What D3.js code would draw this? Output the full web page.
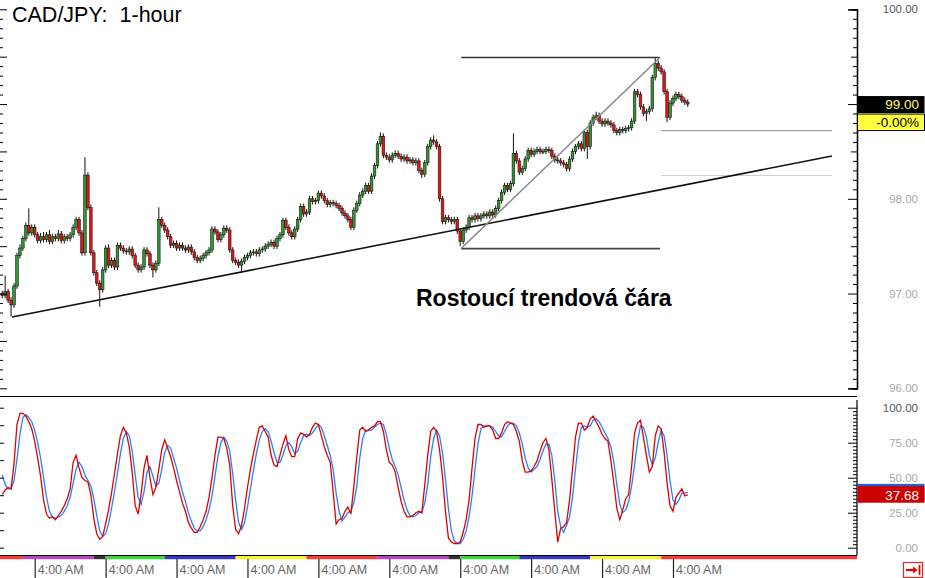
<!DOCTYPE html>
<html><head><meta charset="utf-8">
<script src="https://cdn.jsdelivr.net/npm/d3@7"></script>
<style>
body{margin:0;background:#fff;}
svg{display:block;font-family:"Liberation Sans",Arial,sans-serif;}
</style>
</head><body>
<svg id="c" width="925" height="578"></svg>
<script>
// ---------------- DATA ----------------
const title = "CAD/JPY:  1-hour";
const annotationText = "Rostoucí trendová čára";
const firstOpen = 97.00;
const closes = [
96.98,97.02,96.93,96.88,97.08,97.40,97.48,97.58,97.72,97.64,
97.70,97.62,97.56,97.60,97.57,97.62,97.55,97.60,97.58,97.63,
97.56,97.60,97.58,97.62,97.70,97.78,97.64,97.43,98.25,97.91,
97.43,97.22,97.11,97.04,97.25,97.48,97.30,97.35,97.28,97.51,
97.48,97.45,97.44,97.47,97.40,97.30,97.25,97.28,97.46,97.42,
97.30,97.25,97.32,97.78,97.72,97.67,97.60,97.51,97.53,97.48,
97.51,97.48,97.46,97.49,97.44,97.38,97.35,97.37,97.40,97.43,
97.46,97.68,97.65,97.57,97.62,97.69,97.67,97.46,97.35,97.33,
97.30,97.34,97.38,97.40,97.43,97.44,97.42,97.46,97.47,97.50,
97.52,97.54,97.50,97.58,97.62,97.77,97.70,97.64,97.60,97.68,
97.78,97.92,97.84,97.86,98.00,97.97,97.98,98.06,98.03,97.98,
97.94,97.96,97.95,97.93,97.90,97.85,97.82,97.78,97.70,97.88,
97.95,98.04,98.08,98.14,98.08,98.24,98.35,98.58,98.66,98.46,
98.44,98.41,98.46,98.48,98.45,98.42,98.44,98.40,98.41,98.38,
98.40,98.30,98.26,98.38,98.55,98.62,98.60,98.55,98.00,97.76,
97.80,97.78,97.76,97.78,97.66,97.55,97.67,97.70,97.80,97.78,
97.82,97.79,97.82,97.84,97.82,97.86,97.83,97.90,97.98,98.07,
98.14,98.10,98.16,98.48,98.40,98.28,98.32,98.42,98.51,98.47,
98.50,98.52,98.50,98.50,98.52,98.51,98.45,98.41,98.40,98.38,
98.36,98.32,98.42,98.50,98.55,98.58,98.53,98.70,98.55,98.80,
98.86,98.88,98.82,98.79,98.82,98.80,98.78,98.72,98.70,98.73,
98.72,98.74,98.75,98.82,99.13,99.10,98.97,98.90,98.92,98.95,
99.28,99.43,99.38,99.34,99.13,98.86,99.01,99.06,99.10,99.08,
99.04,99.02,99.00];
// wick lengths above / below the body, in hundredths of a yen
const wickUp = [
3,17,3,3,3,3,4,3,3,18, 3,3,3,4,5,3,5,3,3,4, 3,3,3,3,3,3,3,3,19,3, 3,3,3,3,3,3,4,3,3,3,
3,3,3,3,3,3,3,3,3,3, 3,3,3,13,3,3,3,3,3,3, 3,3,3,3,3,3,3,3,3,3, 3,3,3,3,3,3,3,3,3,3,
3,3,3,3,3,3,3,3,3,3, 3,3,3,3,3,3,3,3,3,3, 3,3,3,3,3,3,3,3,3,3, 3,3,3,3,3,3,3,3,3,3,
3,3,3,3,3,3,3,3,4,3, 3,3,3,3,3,3,3,3,3,3, 3,3,3,3,3,3,5,3,3,3, 3,3,3,3,3,3,3,3,3,3,
3,3,3,3,3,3,3,3,3,3, 3,3,3,21,3,3,3,3,3,3, 3,3,3,3,3,3,3,3,3,3, 3,3,3,3,3,3,3,3,3,3,
3,4,3,3,3,3,3,3,3,3, 3,3,3,3,3,3,3,3,3,3, 3,6,3,3,3,3,3,3,3,3, 3,3,3];
const wickDown = [
3,3,3,12,3,3,3,3,3,3, 3,3,3,3,3,3,3,3,3,3, 3,3,3,3,3,3,3,3,3,3, 3,3,3,18,3,3,3,3,3,3,
3,3,3,3,3,3,3,3,3,3, 3,8,3,3,3,3,3,3,3,3, 3,3,3,3,3,3,3,3,3,3, 3,3,3,3,3,3,3,3,3,3,
3,8,3,3,3,3,3,3,3,3, 3,3,3,3,3,3,3,3,3,3, 3,3,3,3,3,3,3,3,3,3, 3,3,3,3,3,3,3,3,3,3,
3,3,3,3,3,3,3,3,3,3, 3,3,3,3,3,3,3,3,3,3, 3,3,4,3,3,3,3,3,3,3, 3,3,3,3,3,5,3,3,3,3,
3,3,3,3,3,3,3,3,3,3, 3,3,3,3,3,3,3,3,3,3, 3,3,3,3,3,3,3,3,3,3, 3,3,3,3,3,3,3,3,13,3,
3,3,3,3,3,3,3,3,3,3, 3,3,3,3,3,3,3,3,8,3, 3,3,3,3,3,5,3,3,3,3, 3,3,3];
const stochK = [
38,41,43,42,60,88,96,96,94,90, 85,76,64,51,34,24,21,22,20,23, 26,30,35,42,61,66,57,50,48,47,
38,21,10,6,8,17,27,39,53,67, 80,86,82,72,54,30,24,38,57,66, 50,38,43,56,70,77,71,65,57,48,
40,32,26,18,14,11,11,15,20,26, 36,50,66,79,79,78,71,59,30,13, 10,16,28,43,56,67,77,86,87,83,
79,66,59,58,66,74,80,70,65,65, 78,82,81,79,81,86,89,88,80,72, 66,61,40,17,20,21,26,29,24,44,
65,84,86,83,84,86,87,90,90,83, 70,61,59,54,43,33,26,22,22,23, 25,26,25,45,66,83,86,83,70,51,
26,7,4,3,3,4,11,20,34,57, 78,88,88,86,87,87,84,78,78,82, 88,90,89,88,83,76,62,54,54,55,
58,62,69,75,78,70,49,26,4,14, 15,18,34,56,79,89,89,84,86,92, 94,90,86,81,78,76,62,46,28,20,
27,35,38,58,82,89,91,79,66,54, 58,80,87,85,68,46,30,26,36,39, 42,37,37.68];
const stochD = [
52,45,42,42,48,63,81,93,95,93, 90,84,75,64,50,36,26,22,21,22, 23,26,30,36,46,56,61,58,52,48,
44,35,23,12,8,10,17,28,40,53, 67,78,83,80,69,52,36,31,40,54, 58,51,44,46,56,68,73,71,64,57,
48,40,33,25,19,14,12,12,15,20, 27,37,51,65,75,79,76,69,53,34, 18,13,18,29,42,55,67,77,83,85,
83,76,68,61,61,66,73,75,72,67, 69,75,80,81,80,82,85,88,86,80, 73,66,56,39,26,19,22,25,26,32,
44,64,78,84,84,84,86,88,89,88, 81,71,63,58,52,43,34,27,23,22, 23,25,25,32,45,65,78,84,80,68,
49,28,12,5,3,3,6,12,22,37, 56,74,85,87,87,87,86,83,80,79, 83,87,89,89,87,82,74,64,57,54,
56,58,63,69,74,74,66,48,26,15, 11,16,22,36,56,75,86,87,86,87, 91,92,90,86,82,78,72,61,45,31,
25,27,33,44,59,76,87,86,79,66, 59,64,75,84,80,66,48,34,31,34, 39,39,39.5];
const priceTicks = [96, 97, 98, 99, 100];
const stochTicks = [0, 25, 50, 75, 100];
const timeTickIdx = [11, 35, 59, 83, 107, 131, 155, 179, 203, 227];
const timeTickLabels = ["4:00 AM","4:00 AM","4:00 AM","4:00 AM","4:00 AM","4:00 AM","4:00 AM","4:00 AM","4:00 AM","4:00 AM"];
// session colour bar: [start candle, end candle, colour]
const sessionStart = [-3, 7, 31, 35, 55, 79, 103, 127, 151, 155, 175, 199, 223];
const sessionEnd   = [7, 31, 35, 55, 79, 103, 127, 151, 155, 175, 199, 223, 292];
const sessionColor = ["#ff3a3a","#bb44c4","#333333","#33dd33","#3434c8","#fff030","#ff3a3a","#bb44c4","#333333","#33dd33","#3434c8","#fff030","#ff3a3a"];
// drawn annotations, in (candle index, price)
const trendLine = [[3.3, 96.752], [280.8, 98.452]];
const boxTop = [[155.3, 99.491], [222.6, 99.491]];
const boxBottom = [[155.3, 97.475], [222.6, 97.475]];
const boxDiagonal = [[155.3, 97.475], [222.6, 99.491]];
const levelA = [[223, 98.719], [280.8, 98.719]];
const levelB = [[223, 98.246], [280.8, 98.246]];
const lastPrice = 99.00, lastChange = "-0.00%";
const lastK = 37.68, lastD = 39.5;

// ---------------- SCALES ----------------
const svg = d3.select("#c");
const step = 2.955;
const x = d3.scaleLinear().domain([0, 290]).range([2.2, 2.2 + 290 * step]);
const yP = d3.scaleLinear().domain([96, 100]).range([388.3, 9.3]);
const yS = d3.scaleLinear().domain([0, 100]).range([547.7, 407.7]);
const AX = 857;

const defs = svg.append("defs");
defs.append("clipPath").attr("id","cpMain").append("rect").attr("x",0).attr("y",0).attr("width",AX).attr("height",396);
defs.append("clipPath").attr("id","cpStoch").append("rect").attr("x",0).attr("y",400).attr("width",AX).attr("height",155);

// ---------------- MAIN PANEL ----------------
const gMain = svg.append("g").attr("clip-path","url(#cpMain)");

function seg(g, pts, color, w){
  g.append("line")
   .attr("x1", x(pts[0][0])).attr("y1", yP(pts[0][1]))
   .attr("x2", x(pts[1][0])).attr("y2", yP(pts[1][1]))
   .attr("stroke", color).attr("stroke-width", w);
}
seg(gMain, levelB, "#d0d0d0", 1);
seg(gMain, levelA, "#a0a0a0", 1.2);

// candles
const candles = closes.map((c, i) => {
  const o = i === 0 ? firstOpen : closes[i-1];
  return {i, o, c, h: Math.max(o,c) + wickUp[i]/100, l: Math.min(o,c) - wickDown[i]/100};
});
const gC = gMain.append("g");
gC.selectAll("line.w").data(candles).join("line").attr("class","w")
  .attr("x1", d => x(d.i)).attr("x2", d => x(d.i))
  .attr("y1", d => yP(d.h)).attr("y2", d => yP(d.l))
  .attr("stroke", "#111").attr("stroke-width", 1);
gC.selectAll("rect").data(candles).join("rect")
  .attr("x", d => x(d.i) - 1.3).attr("width", 2.6)
  .attr("y", d => yP(Math.max(d.o, d.c)))
  .attr("height", d => Math.max(0.8, Math.abs(yP(d.o) - yP(d.c))))
  .attr("fill", d => d.c >= d.o ? "#2f9a2f" : "#ee1111")
  .attr("stroke", "#151515").attr("stroke-width", 0.6);

seg(gMain, trendLine, "#111", 1.6);
seg(gMain, boxTop, "#333", 1.6);
seg(gMain, boxBottom, "#444", 1.8);
seg(gMain, boxDiagonal, "#8a8a8a", 1.6);

svg.append("text").attr("x", 416).attr("y", 306)
  .attr("font-size", 23).attr("font-weight", "bold").attr("fill", "#000")
  .text(annotationText);
svg.append("text").attr("x", 12).attr("y", 21.5).attr("xml:space","preserve")
  .style("white-space","pre")
  .attr("font-size", 21.5).attr("fill", "#000").text(title);

// price axis ticks (right side, pointing into chart)
const minorP = d3.range(960, 1001).map(v => v / 10);
const gPA = svg.append("g").attr("transform", `translate(${AX},0)`);
gPA.call(d3.axisLeft(yP).tickValues(minorP.filter(v => Math.round(v*10) % 5 !== 0)).tickSize(4).tickFormat(""));
gPA.call(g => g.append("g").call(d3.axisLeft(yP).tickValues(minorP.filter(v => Math.round(v*10) % 10 === 5)).tickSize(6).tickFormat("")));
gPA.call(g => g.append("g").call(d3.axisLeft(yP).tickValues(priceTicks).tickSize(9).tickFormat("")));
gPA.selectAll("path.domain").attr("stroke","#000").attr("stroke-width",1.2);
gPA.selectAll("line").attr("stroke","#000");
// left-side ticks of main panel
const gPL = svg.append("g").attr("transform", "translate(0,0)");
gPL.call(d3.axisRight(yP).tickValues(minorP.filter(v => Math.round(v*10) % 5 !== 0)).tickSize(3).tickFormat(""));
gPL.call(g => g.append("g").call(d3.axisRight(yP).tickValues(minorP.filter(v => Math.round(v*10) % 5 === 0)).tickSize(7).tickFormat("")));
gPL.selectAll("path.domain").remove();
gPL.selectAll("line").attr("stroke","#000");
// price labels (the 99.00 tick label is hidden under the last-price box, as in the reference)
const gPLab = svg.append("g").attr("transform", "translate(918,0)")
  .call(d3.axisLeft(yP).tickValues(priceTicks.filter(v => v !== lastPrice)).tickSize(0).tickPadding(0).tickFormat(d3.format(".2f")));
gPLab.select("path.domain").remove();
gPLab.selectAll("text").attr("font-size", 11.5).attr("font-family","Liberation Sans, Arial, sans-serif")
  .attr("fill", d => d === 100 ? "#555" : "#a8a8a8");
// main panel bottom line
svg.append("line").attr("x1",0).attr("x2",AX).attr("y1",396.5).attr("y2",396.5).attr("stroke","#000").attr("stroke-width",1.2);

// last price boxes
const yl = yP(lastPrice);
svg.append("rect").attr("x", AX+0.5).attr("y", yl-8).attr("width", 67).attr("height", 17).attr("fill","#000");
svg.append("text").attr("x", 919).attr("y", yl+5).attr("text-anchor","end").attr("font-size",13.5).attr("fill","#ffff66").text(d3.format(".2f")(lastPrice));
svg.append("rect").attr("x", AX+0.5).attr("y", yl+10).attr("width", 67).attr("height", 16.5).attr("fill","#ffff40").attr("stroke","#000").attr("stroke-width",1);
svg.append("text").attr("x", 919).attr("y", yl+23).attr("text-anchor","end").attr("font-size",13.5).attr("fill","#000").text(lastChange);

// ---------------- STOCHASTIC PANEL ----------------
const gS = svg.append("g").attr("clip-path","url(#cpStoch)");
const lineS = d3.line().x((d,i) => x(i)).y(d => yS(d));
gS.append("path").datum(stochD).attr("d", lineS).attr("fill","none").attr("stroke","#2a7fff").attr("stroke-width",1.3);
gS.append("path").datum(stochK).attr("d", lineS).attr("fill","none").attr("stroke","#dd0000").attr("stroke-width",1.3);

const minorS = d3.range(0, 101, 2.5);
const gSA = svg.append("g").attr("transform", `translate(${AX},0)`);
gSA.call(d3.axisLeft(yS).tickValues(minorS.filter(v => v % 25 !== 0)).tickSize(4).tickFormat(""));
gSA.call(g => g.append("g").call(d3.axisLeft(yS).tickValues(stochTicks).tickSize(9).tickFormat("")));
gSA.select("path.domain").attr("d", "M0,400V555.5");
gSA.selectAll("g g path.domain").remove();
gSA.selectAll("path.domain").attr("stroke","#000").attr("stroke-width",1.2);
gSA.selectAll("line").attr("stroke","#000");
const gSL = svg.append("g");
gSL.call(d3.axisRight(yS).tickValues(d3.range(0, 101, 12.5)).tickSize(4).tickFormat(""));
gSL.selectAll("path.domain").remove();
gSL.selectAll("line").attr("stroke","#000");
const gSLab = svg.append("g").attr("transform", "translate(918,0)")
  .call(d3.axisLeft(yS).tickValues(stochTicks).tickSize(0).tickPadding(0).tickFormat(d3.format(".2f")));
gSLab.select("path.domain").remove();
gSLab.selectAll("text").attr("font-size", 11.5).attr("font-family","Liberation Sans, Arial, sans-serif")
  .attr("fill", d => d === 100 ? "#555" : "#a8a8a8");

// stoch value boxes
svg.append("rect").attr("x", AX+0.5).attr("y", yS(lastD)-8.5).attr("width", 67).attr("height", 16.5).attr("fill","#1f5fd8");
svg.append("rect").attr("x", AX+0.5).attr("y", yS(lastK)-8.8).attr("width", 67).attr("height", 16.6).attr("fill","#cc0000");
svg.append("text").attr("x", 919).attr("y", yS(lastK)+5).attr("text-anchor","end").attr("font-size",13.5).attr("fill","#fff").text(d3.format(".2f")(lastK));

// stoch bottom line & session bar
svg.append("line").attr("x1",0).attr("x2",AX).attr("y1",555.5).attr("y2",555.5).attr("stroke","#000").attr("stroke-width",1);
svg.append("g").selectAll("rect").data(sessionColor).join("rect")
  .attr("x", (d,i) => Math.max(0, x(sessionStart[i])))
  .attr("width", (d,i) => Math.min(AX, x(sessionEnd[i])) - Math.max(0, x(sessionStart[i])))
  .attr("y", 556).attr("height", 3.2).attr("fill", d => d);

// time axis
const gT = svg.append("g").attr("transform","translate(0,559)")
  .call(d3.axisBottom(x).tickValues(timeTickIdx).tickSize(19).tickFormat((d,i) => timeTickLabels[i]));
gT.select("path.domain").remove();
gT.selectAll("line").attr("stroke","#222").attr("stroke-width",1.2);
gT.selectAll("text").attr("text-anchor","start").attr("x",2.5).attr("y",6).attr("dy","0.71em")
  .attr("font-size",12.5).attr("font-family","Liberation Sans, Arial, sans-serif").attr("fill","#666");

// scroll-to-end icon
const gI = svg.append("g");
gI.append("rect").attr("x",903.5).attr("y",562.5).attr("width",19).attr("height",15).attr("fill","#fff").attr("stroke","#ee2222").attr("stroke-width",1.2);
gI.append("path").attr("d","M906,570H916").attr("stroke","#ee0000").attr("stroke-width",2.2);
gI.append("path").attr("d","M913,566.5L917.5,570L913,573.5Z").attr("fill","#ee0000");
gI.append("path").attr("d","M919.5,565V575").attr("stroke","#ee0000").attr("stroke-width",1.8);
</script>
</body></html>
